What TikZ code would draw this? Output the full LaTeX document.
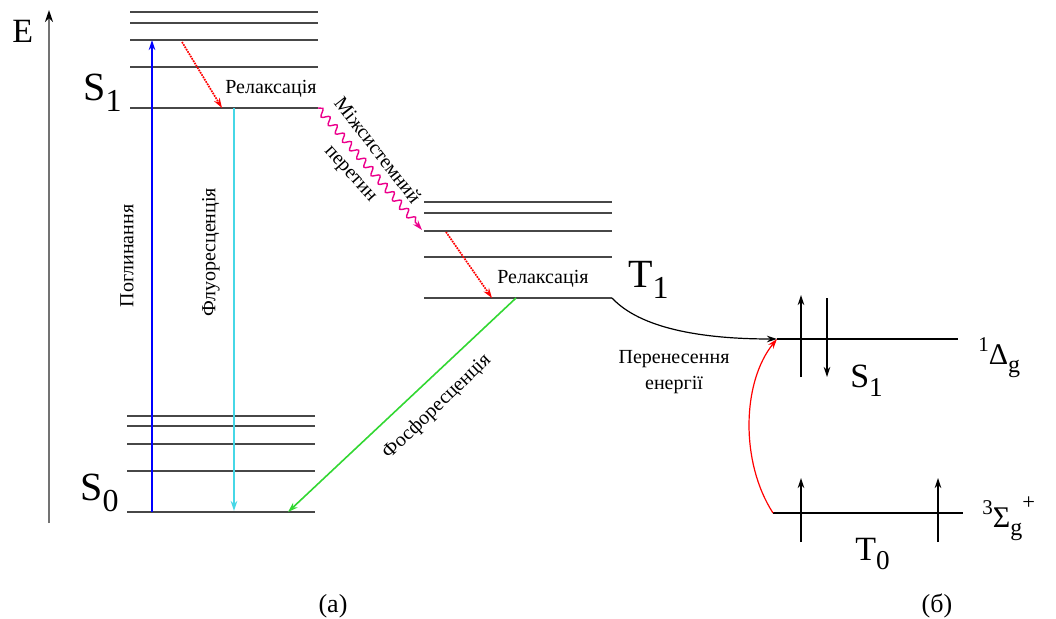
\documentclass[tikz,border=0pt]{standalone}
\usepackage{fontspec}
\setmainfont{Liberation Serif}
\newfontfamily\tms{Liberation Serif}
\usetikzlibrary{arrows,arrows.meta,decorations.pathmorphing}
\definecolor{flcyan}{RGB}{70,215,230}
\definecolor{phgreen}{RGB}{50,215,50}
\newcommand{\lowsub}[1]{\raisebox{-0.28em}{\scalebox{0.8}{#1}}}
\newcommand{\hisup}[1]{\raisebox{0.42em}{\scalebox{0.7}{#1}}}

\begin{document}
\begin{tikzpicture}[x=1pt,y=-1pt,>={Stealth[length=10pt,width=6.5pt]},semithick,
                    level/.style={line width=2.3pt,black!72},
                    thin level/.style={line width=1.3pt,black},
                    small/.style={inner sep=0pt,font=\tms\fontsize{20}{26}\selectfont},
                    big/.style={inner sep=0pt,anchor=base west,font=\tms\fontsize{40}{40}\selectfont},
                    mid/.style={inner sep=0pt,anchor=base west,font=\tms\fontsize{34}{34}\selectfont},
                    relax/.style={->,red,densely dotted,line width=1.7pt}]

	\useasboundingbox (0,0) rectangle (1056,618);

	% energy axis
	\coordinate (axis0) at (49,523);
	\coordinate (axis1) at (49,10);
	\draw[-{Stealth[length=12pt,width=8pt,black]},line width=2pt,black!55] (axis0) -- (axis1);
	\node[mid] (E) at (12,43) {E};

	% singlet S1 and S0 levels
	\foreach \y in {12,23,40,67,108} \draw[level] (130,\y) -- (318,\y);
	\foreach \y in {416,426,444,471,512} \draw[level] (127,\y) -- (315,\y);
	\node[big] (S1) at (83,100) {S\lowsub{1}};
	\node[big] (S0) at (80,500) {S\lowsub{0}};

	% triplet T1 levels
	\foreach \y in {202,213,231,257,298} \draw[level] (424,\y) -- (612,\y);
	\node[big] (T1) at (628,287) {T\lowsub{1}};

	% absorption and fluorescence
	\coordinate (abs0) at (152,512);
	\coordinate (abs1) at (152,40);
	\coordinate (fl0) at (234,108);
	\coordinate (fl1) at (234,511);
	\draw[->,blue,line width=1.5pt] (abs0) -- (abs1);
	\draw[->,flcyan,line width=1.9pt] (fl0) -- (fl1);
	\node[small,rotate=90] (absl) at (127,256) {Поглинання};
	\node[small,rotate=90] (fll) at (211,252) {Флуоресценція};

	% relaxation in S1
	\coordinate (rx0) at (182,42);
	\coordinate (rx1) at (222,108);
	\draw[relax] (rx0) -- (rx1);
	\node[small,anchor=base west] (rxl) at (225,93) {Релаксація};

	% intersystem crossing
	\coordinate (isc0) at (318,108);
	\coordinate (isc1) at (422,230);
	\draw[->,magenta,line width=1.4pt,decorate,
	      decoration={snake,amplitude=3.5pt,segment length=11pt,post length=10pt}] (isc0) -- (isc1);
	\node[small,rotate=-52] (iscl) at (378,150) {Міжсистемний};
	\node[small,rotate=-48] (iscm) at (349,175) {перетин};

	% relaxation in T1
	\coordinate (ry0) at (446,232);
	\coordinate (ry1) at (492,298);
	\draw[relax] (ry0) -- (ry1);
	\node[small,anchor=base west] (ryl) at (497,283) {Релаксація};

	% phosphorescence
	\coordinate (ph0) at (516,298);
	\coordinate (ph1) at (288,512);
	\draw[->,phgreen,line width=1.6pt] (ph0) -- (ph1);
	\node[small,rotate=44] (phl) at (437,407) {Фосфоресценція};

	% oxygen levels
	\coordinate (dl) at (777,339);
	\coordinate (sl) at (773,513);
	\draw[thin level] (dl) -- (958,339);
	\draw[thin level] (sl) -- (963,513);
	\node[mid] (S1b) at (850,387) {S\lowsub{1}};
	\node[mid] (T0) at (855,560) {T\lowsub{0}};
	\node[inner sep=0pt,anchor=base west,font=\tms\fontsize{30}{30}\selectfont] (delta) at (978,364)
		{\hisup{1}Δ\lowsub{g}};
	\node[inner sep=0pt,anchor=base west,font=\tms\fontsize{30}{30}\selectfont] (sigma) at (982,527)
		{\hisup{3}Σ\lowsub{g}\raisebox{0.6em}{\scalebox{0.75}{+}}};

	% electron spins
	\foreach \x/\a/\b in {801/377/295,827/298/377,801/542/478,938/542/478}
		\draw[->,line width=1.2pt] (\x,\a) -- (\x,\b);

	% energy transfer
	\coordinate (t1end) at (612,298);
	\draw[->,line width=1.2pt] (t1end) .. controls (640,328) and (700,339) .. (dl);
	\draw[->,red,line width=1.2pt] (sl) .. controls (740,462) and (742,382) .. (dl);
	\node[small,align=center] (etl) at (674,372) {Перенесення\\енергії};

	\node[inner sep=0pt,anchor=base,font=\tms\fontsize{26}{26}\selectfont] (capa) at (333,612) {(а)};
	\node[inner sep=0pt,anchor=base,font=\tms\fontsize{26}{26}\selectfont] (capb) at (937,612) {(б)};

\end{tikzpicture}
\end{document}
